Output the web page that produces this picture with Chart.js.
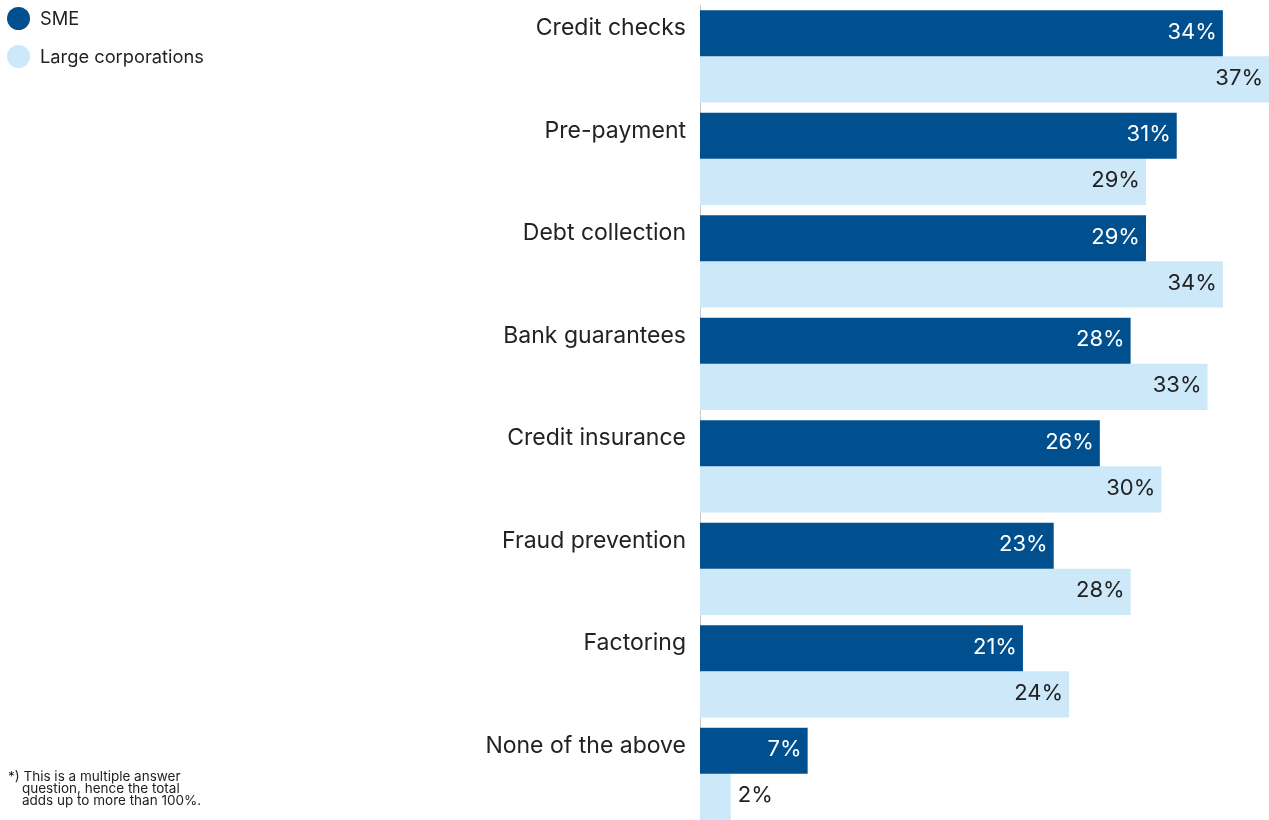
<!DOCTYPE html>
<html lang="en">
<head>
<meta charset="UTF-8">
<title>Credit risk measures</title>
<script src="https://cdn.jsdelivr.net/npm/chart.js"></script>
<style>
    body {
        margin: 0;
        padding: 0;
        background: #fff;
        overflow: hidden;
        font-family: Inter, "Open Sans", sans-serif;
        color: #222;
    }
    .wrap {
        position: relative;
        width: 1269px;
        height: 825px;
    }
    .legend {
        position: absolute;
        left: 7px;
        top: 0;
        font-size: 18.3px;
    }
    .legend div {
        position: absolute;
        left: 0;
        display: flex;
        align-items: center;
        height: 24px;
        white-space: nowrap;
    }
    .legend span.dot {
        width: 23px;
        height: 23px;
        border-radius: 50%;
        margin-right: 10px;
    }
    .note {
        position: absolute;
        left: 8px;
        top: 770px;
        font-size: 13.5px;
        line-height: 12px;
    }
    .note p { margin: 0; padding-left: 14px; }
    .note p:first-child { padding-left: 0; }
</style>
</head>
<body>
<div class="wrap">
    <canvas id="chart"></canvas>
    <div class="legend" id="legend"></div>
    <div class="note">
        <p>*) This is a multiple answer</p>
        <p>question, hence the total</p>
        <p>adds up to more than 100%.</p>
    </div>
</div>

<script>
// categories and values (percent)
const categories = ['Credit checks', 'Pre-payment', 'Debt collection', 'Bank guarantees',
    'Credit insurance', 'Fraud prevention', 'Factoring', 'None of the above'];
const smeValues = [34, 31, 29, 28, 26, 23, 21, 7];
const largeValues = [37, 29, 34, 33, 30, 28, 24, 2];
const seriesNames = ['SME', 'Large corporations'];
const seriesColors = ['#00508f', '#cde8f9'];
const labelColors = ['#ffffff', '#222222'];

// html legend, one row every 38px
const legend = document.getElementById('legend');
seriesNames.forEach((name, i) => {
    const row = document.createElement('div');
    row.style.top = (6 + i * 38) + 'px';
    row.innerHTML = '<span class="dot" style="background:' + seriesColors[i] + '"></span>' + name;
    legend.appendChild(row);
});

// value labels at the end of each bar, outside when the bar is too short
const valueLabels = {
    id: 'valueLabels',
    afterDatasetsDraw(chart) {
        const ctx = chart.ctx;
        ctx.save();
        ctx.font = '22px Inter, "Open Sans", sans-serif';
        ctx.textBaseline = 'middle';
        chart.data.datasets.forEach((ds, i) => {
            chart.getDatasetMeta(i).data.forEach((bar, j) => {
                const txt = ds.data[j] + '%';
                const w = ctx.measureText(txt).width;
                if (bar.x - bar.base > w + 12) {
                    ctx.textAlign = 'right';
                    ctx.fillStyle = labelColors[i];
                    ctx.fillText(txt, bar.x - 6, bar.y - 1);
                } else {
                    ctx.textAlign = 'left';
                    ctx.fillStyle = '#222222';
                    ctx.fillText(txt, bar.x + 7, bar.y - 1);
                }
            });
        });
        ctx.restore();
    }
};

new Chart(document.getElementById('chart'), {
    type: 'bar',
    data: {
        labels: categories,
        datasets: [{
            label: seriesNames[0],
            data: smeValues,
            backgroundColor: seriesColors[0]
        }, {
            label: seriesNames[1],
            data: largeValues,
            backgroundColor: seriesColors[1]
        }]
    },
    options: {
        indexAxis: 'y',
        responsive: true,
        maintainAspectRatio: false,
        animation: false,
        layout: { padding: { top: 5, right: 0, bottom: 0, left: 0 } },
        datasets: {
            bar: { categoryPercentage: 0.9, barPercentage: 1.0 }
        },
        plugins: {
            legend: { display: false },
            tooltip: { enabled: false }
        },
        scales: {
            x: {
                display: false,
                min: 0,
                max: 37
            },
            y: {
                afterFit(scale) {
                    scale.width = 700;
                    scale.paddingTop = 0;
                    scale.paddingBottom = 0;
                },
                grid: { display: false, drawTicks: false },
                border: { display: true, color: '#c8c8c8', width: 1 },
                ticks: {
                    color: '#222',
                    padding: 14,
                    labelOffset: -28,
                    font: { family: 'Inter, "Open Sans", sans-serif', size: 23 }
                }
            }
        }
    },
    plugins: [valueLabels]
});
</script>
</body>
</html>
